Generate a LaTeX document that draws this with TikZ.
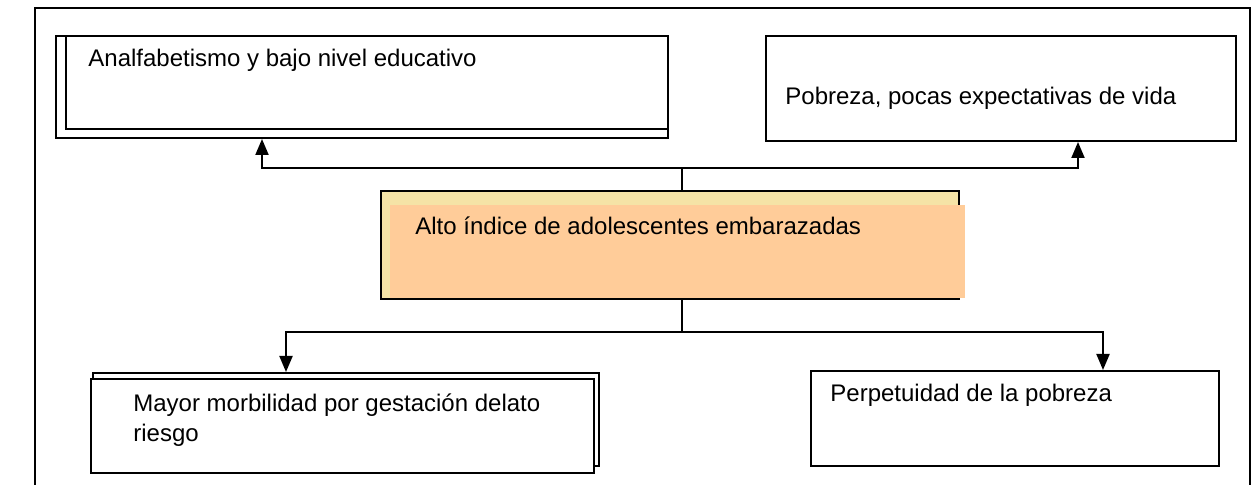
\documentclass[tikz,border=0pt]{standalone}
\usepackage{fontspec}
\setmainfont{Liberation Sans}
\usetikzlibrary{arrows.meta}
\definecolor{peach}{HTML}{FFCC99}
\definecolor{paleyellow}{HTML}{F5E3A6}
\tikzset{
  box/.style={draw=black, line width=1pt, fill=white, rectangle, inner sep=0pt, anchor=north west},
  backbox/.style={draw=black, line width=1pt, fill=white, rectangle, inner sep=0pt, anchor=north west},
  txt/.style={anchor=west, inner sep=0pt, align=left, font=\fontsize{12}{15}\selectfont},
  conn/.style={line width=1pt},
  arr/.style={line width=1pt, -{Triangle[length=8pt,width=6.5pt]}},
}
\begin{document}
\begin{tikzpicture}[x=0.5pt,y=-0.5pt]
\useasboundingbox (0,0) rectangle (1258,485);
% outer frame
\draw[line width=1.2pt] (35,485) -- (35,8) -- (1250,8) -- (1250,485);

% Box A (double)
\node[backbox, minimum width=306pt, minimum height=51pt] (Aback) at (55,35) {};
\node[box, minimum width=301pt, minimum height=46.5pt] (A) at (65,35) {};
\node[txt] (Atxt) at (88,60) {Analfabetismo y bajo nivel educativo};

% Box B
\node[box, minimum width=235pt, minimum height=52.5pt] (B) at (765,35) {};
\node[txt] (Btxt) at (785,98) {Pobreza, pocas expectativas de vida};

% Center box
\node[backbox, fill=paleyellow, minimum width=289pt, minimum height=54pt] (Cback) at (380,190) {};
\node[rectangle, fill=peach, inner sep=0pt, anchor=north west, minimum width=287.5pt, minimum height=46.5pt] (C) at (390,205) {};
\node[txt] (Ctxt) at (415,226) {Alto índice de adolescentes embarazadas};

% Box D (double)
\node[backbox, minimum width=253pt, minimum height=46.5pt] (Dback) at (92,372) {};
\node[box, minimum width=251.5pt, minimum height=47pt] (D) at (90,378) {};
\node[txt] (Dtxt) at (133,420) {Mayor morbilidad por gestación delato\\riesgo};

% Box E
\node[box, minimum width=204pt, minimum height=47.5pt] (E) at (810,370) {};
\node[txt] (Etxt) at (830,395) {Perpetuidad de la pobreza};

% connectors
\coordinate (top) at (682,168);
\coordinate (bot) at (682,332);
\draw[conn] (Cback.north -| top) -- (top);
\draw[arr] (top) -| (Aback.south -| 262,0);
\draw[arr] (top) -| (B.south -| 1078,0);
\draw[conn] (C.south -| bot) -- (bot);
\draw[arr] (bot) -| (Dback.north -| 286,0);
\draw[arr] (bot) -| (E.north -| 1103,0);
\end{tikzpicture}
\end{document}
